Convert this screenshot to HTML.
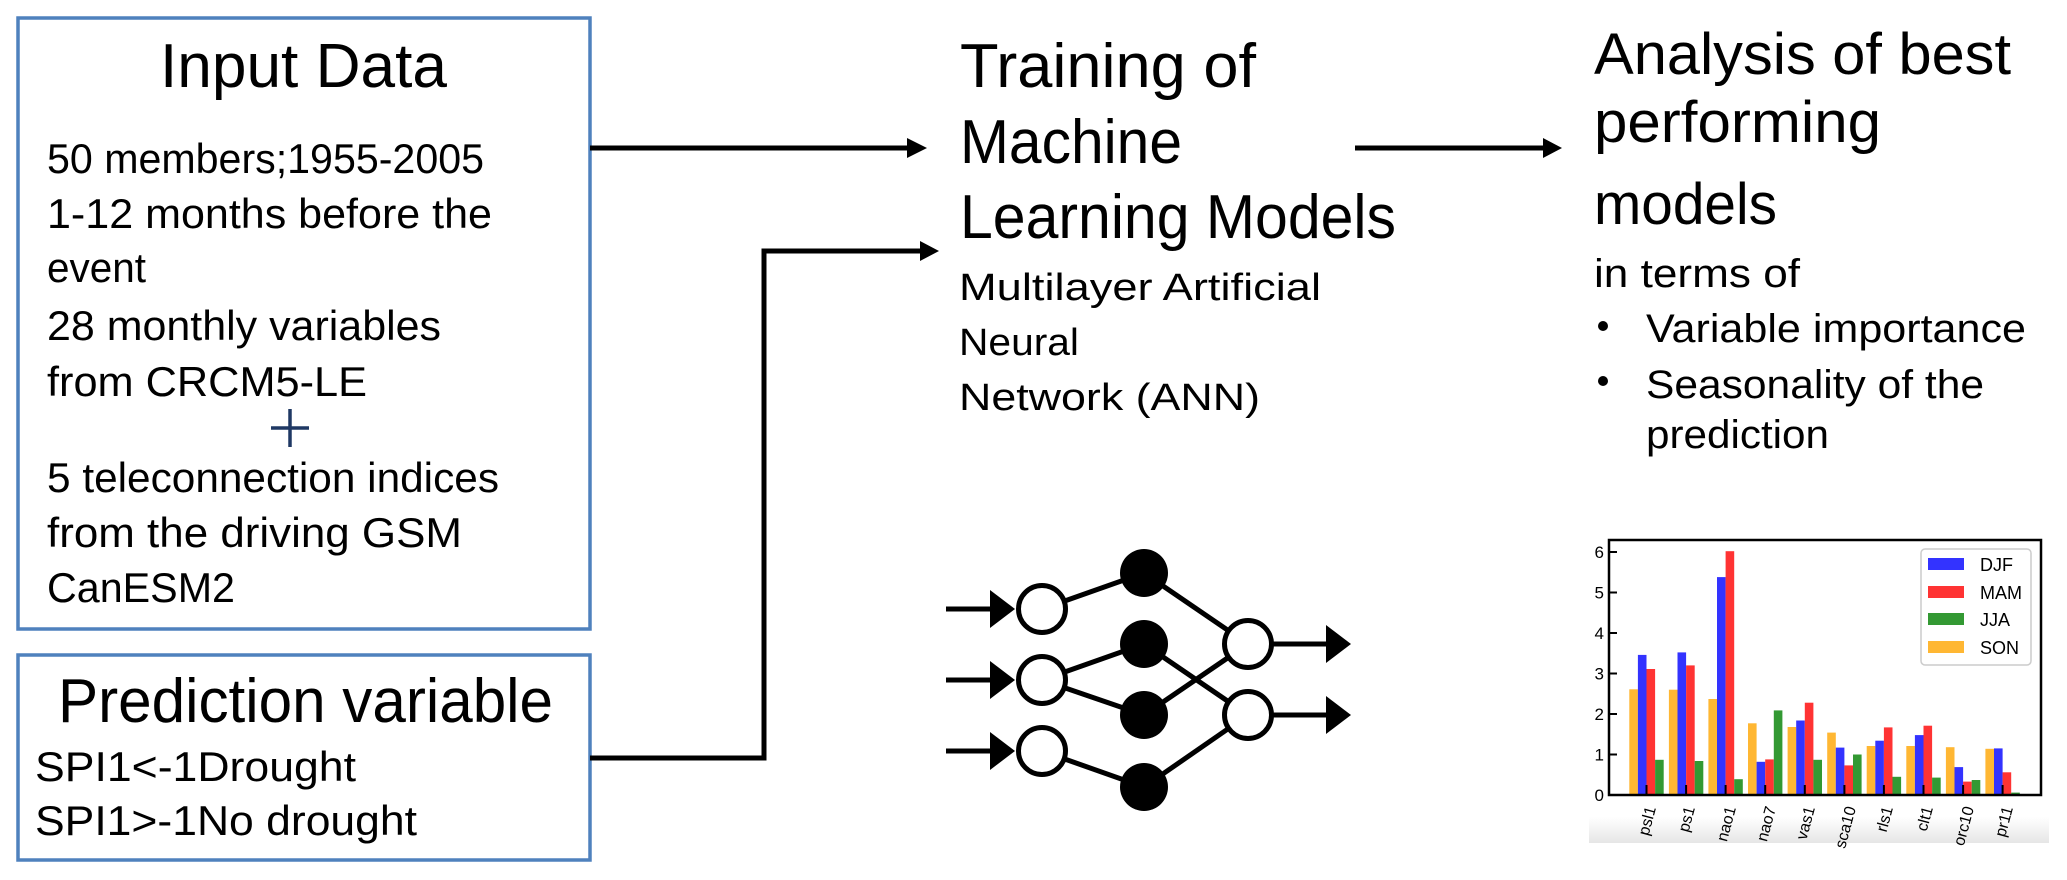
<!DOCTYPE html>
<html><head><meta charset="utf-8"><style>
html,body{margin:0;padding:0;background:#fff;}
svg{display:block;}
text{font-family:"Liberation Sans",sans-serif;fill:#000;}
</style></head><body>
<svg width="2067" height="880" viewBox="0 0 2067 880" xmlns="http://www.w3.org/2000/svg">
<defs>
<linearGradient id="gb" x1="0" y1="0" x2="0" y2="1">
<stop offset="0" stop-color="#ffffff"/><stop offset="1" stop-color="#e6e6e6"/>
</linearGradient>
</defs>
<rect width="2067" height="880" fill="#fff"/>

<!-- Input Data box -->
<rect x="18" y="18" width="572" height="611" fill="none" stroke="#4f81bd" stroke-width="3.5"/>
<text x="160" y="87" font-size="62" textLength="287" lengthAdjust="spacingAndGlyphs">Input Data</text>
<text x="47" y="173" font-size="42" textLength="437" lengthAdjust="spacingAndGlyphs">50 members;1955-2005</text>
<text x="47" y="228" font-size="42" textLength="445" lengthAdjust="spacingAndGlyphs">1-12 months before the</text>
<text x="47" y="282" font-size="42" textLength="99" lengthAdjust="spacingAndGlyphs">event</text>
<text x="47" y="340" font-size="42" textLength="394" lengthAdjust="spacingAndGlyphs">28 monthly variables</text>
<text x="47" y="396" font-size="42" textLength="320" lengthAdjust="spacingAndGlyphs">from CRCM5-LE</text>
<line x1="271" y1="428" x2="309" y2="428" stroke="#1f3864" stroke-width="3.5"/>
<line x1="290" y1="409" x2="290" y2="447" stroke="#1f3864" stroke-width="3.5"/>
<text x="47" y="492" font-size="42" textLength="452" lengthAdjust="spacingAndGlyphs">5 teleconnection indices</text>
<text x="47" y="547" font-size="42" textLength="415" lengthAdjust="spacingAndGlyphs">from the driving GSM</text>
<text x="47" y="602" font-size="42" textLength="188" lengthAdjust="spacingAndGlyphs">CanESM2</text>

<!-- Prediction box -->
<rect x="18" y="655" width="572" height="205" fill="none" stroke="#4f81bd" stroke-width="3.5"/>
<text x="58" y="722" font-size="62" textLength="495" lengthAdjust="spacingAndGlyphs">Prediction variable</text>
<text x="35" y="781" font-size="42" textLength="321" lengthAdjust="spacingAndGlyphs">SPI1&lt;-1Drought</text>
<text x="35" y="835" font-size="42" textLength="382" lengthAdjust="spacingAndGlyphs">SPI1&gt;-1No drought</text>

<!-- Connectors -->
<line x1="590" y1="148" x2="910" y2="148" stroke="#000" stroke-width="5"/>
<polygon points="907,138 927,148 907,158" fill="#000"/>
<polyline points="590,758 764,758 764,251 923,251" fill="none" stroke="#000" stroke-width="5" stroke-linejoin="miter"/>
<polygon points="920,241 939,251 920,261" fill="#000"/>
<line x1="1355" y1="148" x2="1546" y2="148" stroke="#000" stroke-width="5"/>
<polygon points="1543,138 1562,148 1543,158" fill="#000"/>

<!-- Training text -->
<text x="960" y="87" font-size="62" textLength="296" lengthAdjust="spacingAndGlyphs">Training of</text>
<text x="960" y="163" font-size="62" textLength="222" lengthAdjust="spacingAndGlyphs">Machine</text>
<text x="960" y="238" font-size="62" textLength="436" lengthAdjust="spacingAndGlyphs">Learning Models</text>
<text x="959" y="300" font-size="38" textLength="362" lengthAdjust="spacingAndGlyphs">Multilayer Artificial</text>
<text x="959" y="355" font-size="38" textLength="120" lengthAdjust="spacingAndGlyphs">Neural</text>
<text x="959" y="410" font-size="38" textLength="301" lengthAdjust="spacingAndGlyphs">Network (ANN)</text>

<!-- Analysis text -->
<text x="1594" y="74" font-size="58" textLength="417" lengthAdjust="spacingAndGlyphs">Analysis of best</text>
<text x="1594" y="142" font-size="58" textLength="287" lengthAdjust="spacingAndGlyphs">performing</text>
<text x="1594" y="224" font-size="58" textLength="183" lengthAdjust="spacingAndGlyphs">models</text>
<text x="1594" y="287" font-size="40" textLength="206" lengthAdjust="spacingAndGlyphs">in terms of</text>
<circle cx="1603" cy="326" r="5" fill="#000"/>
<text x="1646" y="342" font-size="40" textLength="380" lengthAdjust="spacingAndGlyphs">Variable importance</text>
<circle cx="1603" cy="381" r="5" fill="#000"/>
<text x="1646" y="398" font-size="40" textLength="338" lengthAdjust="spacingAndGlyphs">Seasonality of the</text>
<text x="1646" y="448" font-size="40" textLength="183" lengthAdjust="spacingAndGlyphs">prediction</text>

<!-- Neural network icon -->
<g stroke="#000" stroke-width="5">
<line x1="1042" y1="609" x2="1144" y2="573"/>
<line x1="1042" y1="680" x2="1144" y2="644"/>
<line x1="1042" y1="680" x2="1144" y2="715"/>
<line x1="1042" y1="751" x2="1144" y2="787"/>
<line x1="1144" y1="573" x2="1248" y2="644"/>
<line x1="1144" y1="644" x2="1248" y2="715"/>
<line x1="1144" y1="715" x2="1248" y2="644"/>
<line x1="1144" y1="787" x2="1248" y2="715"/>
<line x1="946" y1="609" x2="995" y2="609"/>
<line x1="946" y1="680" x2="995" y2="680"/>
<line x1="946" y1="751" x2="995" y2="751"/>
<line x1="1248" y1="644" x2="1330" y2="644"/>
<line x1="1248" y1="715" x2="1330" y2="715"/>
</g>
<g fill="#000">
<polygon points="990,590 1015,609 990,628"/>
<polygon points="990,661 1015,680 990,699"/>
<polygon points="990,732 1015,751 990,770"/>
<polygon points="1326,625 1351,644 1326,663"/>
<polygon points="1326,696 1351,715 1326,734"/>
</g>
<g fill="#fff" stroke="#000" stroke-width="5">
<circle cx="1042" cy="609" r="23.5"/>
<circle cx="1042" cy="680" r="23.5"/>
<circle cx="1042" cy="751" r="23.5"/>
<circle cx="1248" cy="644" r="23.5"/>
<circle cx="1248" cy="715" r="23.5"/>
</g>
<g fill="#000">
<circle cx="1144" cy="573" r="24"/>
<circle cx="1144" cy="644" r="24"/>
<circle cx="1144" cy="715" r="24"/>
<circle cx="1144" cy="787" r="24"/>
</g>

<!-- Chart -->
<rect x="1589" y="817" width="460" height="26" fill="url(#gb)"/>
<g>
<g fill="#ffb733">
<rect x="1629.3" y="689.3" width="8.6" height="105.7"/>
<rect x="1668.9" y="689.7" width="8.6" height="105.3"/>
<rect x="1708.4" y="699.0" width="8.6" height="96.0"/>
<rect x="1748.0" y="723.3" width="8.6" height="71.7"/>
<rect x="1787.6" y="727.0" width="8.6" height="68.0"/>
<rect x="1827.2" y="732.6" width="8.6" height="62.4"/>
<rect x="1866.7" y="746.0" width="8.6" height="49.0"/>
<rect x="1906.3" y="746.0" width="8.6" height="49.0"/>
<rect x="1945.9" y="747.2" width="8.6" height="47.8"/>
<rect x="1985.4" y="748.8" width="8.6" height="46.2"/>
</g>
<g fill="#3333ff">
<rect x="1637.9" y="654.9" width="8.6" height="140.1"/>
<rect x="1677.5" y="652.4" width="8.6" height="142.6"/>
<rect x="1717.0" y="577.1" width="8.6" height="217.9"/>
<rect x="1756.6" y="761.8" width="8.6" height="33.2"/>
<rect x="1796.2" y="720.5" width="8.6" height="74.5"/>
<rect x="1835.8" y="747.6" width="8.6" height="47.4"/>
<rect x="1875.3" y="740.7" width="8.6" height="54.3"/>
<rect x="1914.9" y="735.1" width="8.6" height="59.9"/>
<rect x="1954.5" y="767.1" width="8.6" height="27.9"/>
<rect x="1994.0" y="748.4" width="8.6" height="46.6"/>
</g>
<g fill="#ff3333">
<rect x="1646.5" y="669.0" width="8.6" height="126.0"/>
<rect x="1686.1" y="665.4" width="8.6" height="129.6"/>
<rect x="1725.6" y="551.2" width="8.6" height="243.8"/>
<rect x="1765.2" y="759.4" width="8.6" height="35.6"/>
<rect x="1804.8" y="702.7" width="8.6" height="92.3"/>
<rect x="1844.4" y="765.4" width="8.6" height="29.6"/>
<rect x="1883.9" y="727.4" width="8.6" height="67.6"/>
<rect x="1923.5" y="725.7" width="8.6" height="69.3"/>
<rect x="1963.1" y="781.6" width="8.6" height="13.4"/>
<rect x="2002.6" y="772.3" width="8.6" height="22.7"/>
</g>
<g fill="#339933">
<rect x="1655.1" y="759.8" width="8.6" height="35.2"/>
<rect x="1694.7" y="761.0" width="8.6" height="34.0"/>
<rect x="1734.2" y="779.2" width="8.6" height="15.8"/>
<rect x="1773.8" y="710.4" width="8.6" height="84.6"/>
<rect x="1813.4" y="759.8" width="8.6" height="35.2"/>
<rect x="1853.0" y="754.5" width="8.6" height="40.5"/>
<rect x="1892.5" y="776.8" width="8.6" height="18.2"/>
<rect x="1932.1" y="777.6" width="8.6" height="17.4"/>
<rect x="1971.7" y="780.0" width="8.6" height="15.0"/>
<rect x="2011.2" y="792.6" width="8.6" height="2.4"/>
</g>
</g>
<g stroke="#000" stroke-width="2">
<line x1="1646.5" y1="795" x2="1646.5" y2="785"/>
<line x1="1686.1" y1="795" x2="1686.1" y2="785"/>
<line x1="1725.6" y1="795" x2="1725.6" y2="785"/>
<line x1="1765.2" y1="795" x2="1765.2" y2="785"/>
<line x1="1804.8" y1="795" x2="1804.8" y2="785"/>
<line x1="1844.4" y1="795" x2="1844.4" y2="785"/>
<line x1="1883.9" y1="795" x2="1883.9" y2="785"/>
<line x1="1923.5" y1="795" x2="1923.5" y2="785"/>
<line x1="1963.1" y1="795" x2="1963.1" y2="785"/>
<line x1="2002.6" y1="795" x2="2002.6" y2="785"/>
<line x1="1609" y1="795" x2="1617" y2="795"/>
<line x1="1609" y1="754.5" x2="1617" y2="754.5"/>
<line x1="1609" y1="714" x2="1617" y2="714"/>
<line x1="1609" y1="673.5" x2="1617" y2="673.5"/>
<line x1="1609" y1="633" x2="1617" y2="633"/>
<line x1="1609" y1="592.5" x2="1617" y2="592.5"/>
<line x1="1609" y1="552" x2="1617" y2="552"/>
</g>
<rect x="1609" y="540" width="432" height="255" fill="none" stroke="#000" stroke-width="2.5"/>
<g font-size="17" text-anchor="end">
<text x="1604" y="801">0</text>
<text x="1604" y="760.5">1</text>
<text x="1604" y="720">2</text>
<text x="1604" y="679.5">3</text>
<text x="1604" y="639">4</text>
<text x="1604" y="598.5">5</text>
<text x="1604" y="558">6</text>
</g>
<g font-size="16" text-anchor="end">
<text transform="translate(1656,808) rotate(-75)">psl1</text>
<text transform="translate(1695,808) rotate(-75)">ps1</text>
<text transform="translate(1736,808) rotate(-75)">nao1</text>
<text transform="translate(1776,808) rotate(-75)">nao7</text>
<text transform="translate(1815,808) rotate(-75)">vas1</text>
<text transform="translate(1856,808) rotate(-75)">sca10</text>
<text transform="translate(1893,808) rotate(-75)">rls1</text>
<text transform="translate(1933,808) rotate(-75)">clt1</text>
<text transform="translate(1974,808) rotate(-75)">orc10</text>
<text transform="translate(2013,808) rotate(-75)">pr11</text>
</g>
<rect x="1921" y="549" width="110" height="116" rx="4" fill="#fff" fill-opacity="0.9" stroke="#cccccc" stroke-width="1.5"/>
<rect x="1928" y="558" width="36" height="12" fill="#3333ff"/>
<rect x="1928" y="586" width="36" height="12" fill="#ff3333"/>
<rect x="1928" y="613" width="36" height="12" fill="#339933"/>
<rect x="1928" y="641" width="36" height="12" fill="#ffb733"/>
<g font-size="18">
<text x="1980" y="571">DJF</text>
<text x="1980" y="599">MAM</text>
<text x="1980" y="626">JJA</text>
<text x="1980" y="654">SON</text>
</g>
</svg>
</body></html>
